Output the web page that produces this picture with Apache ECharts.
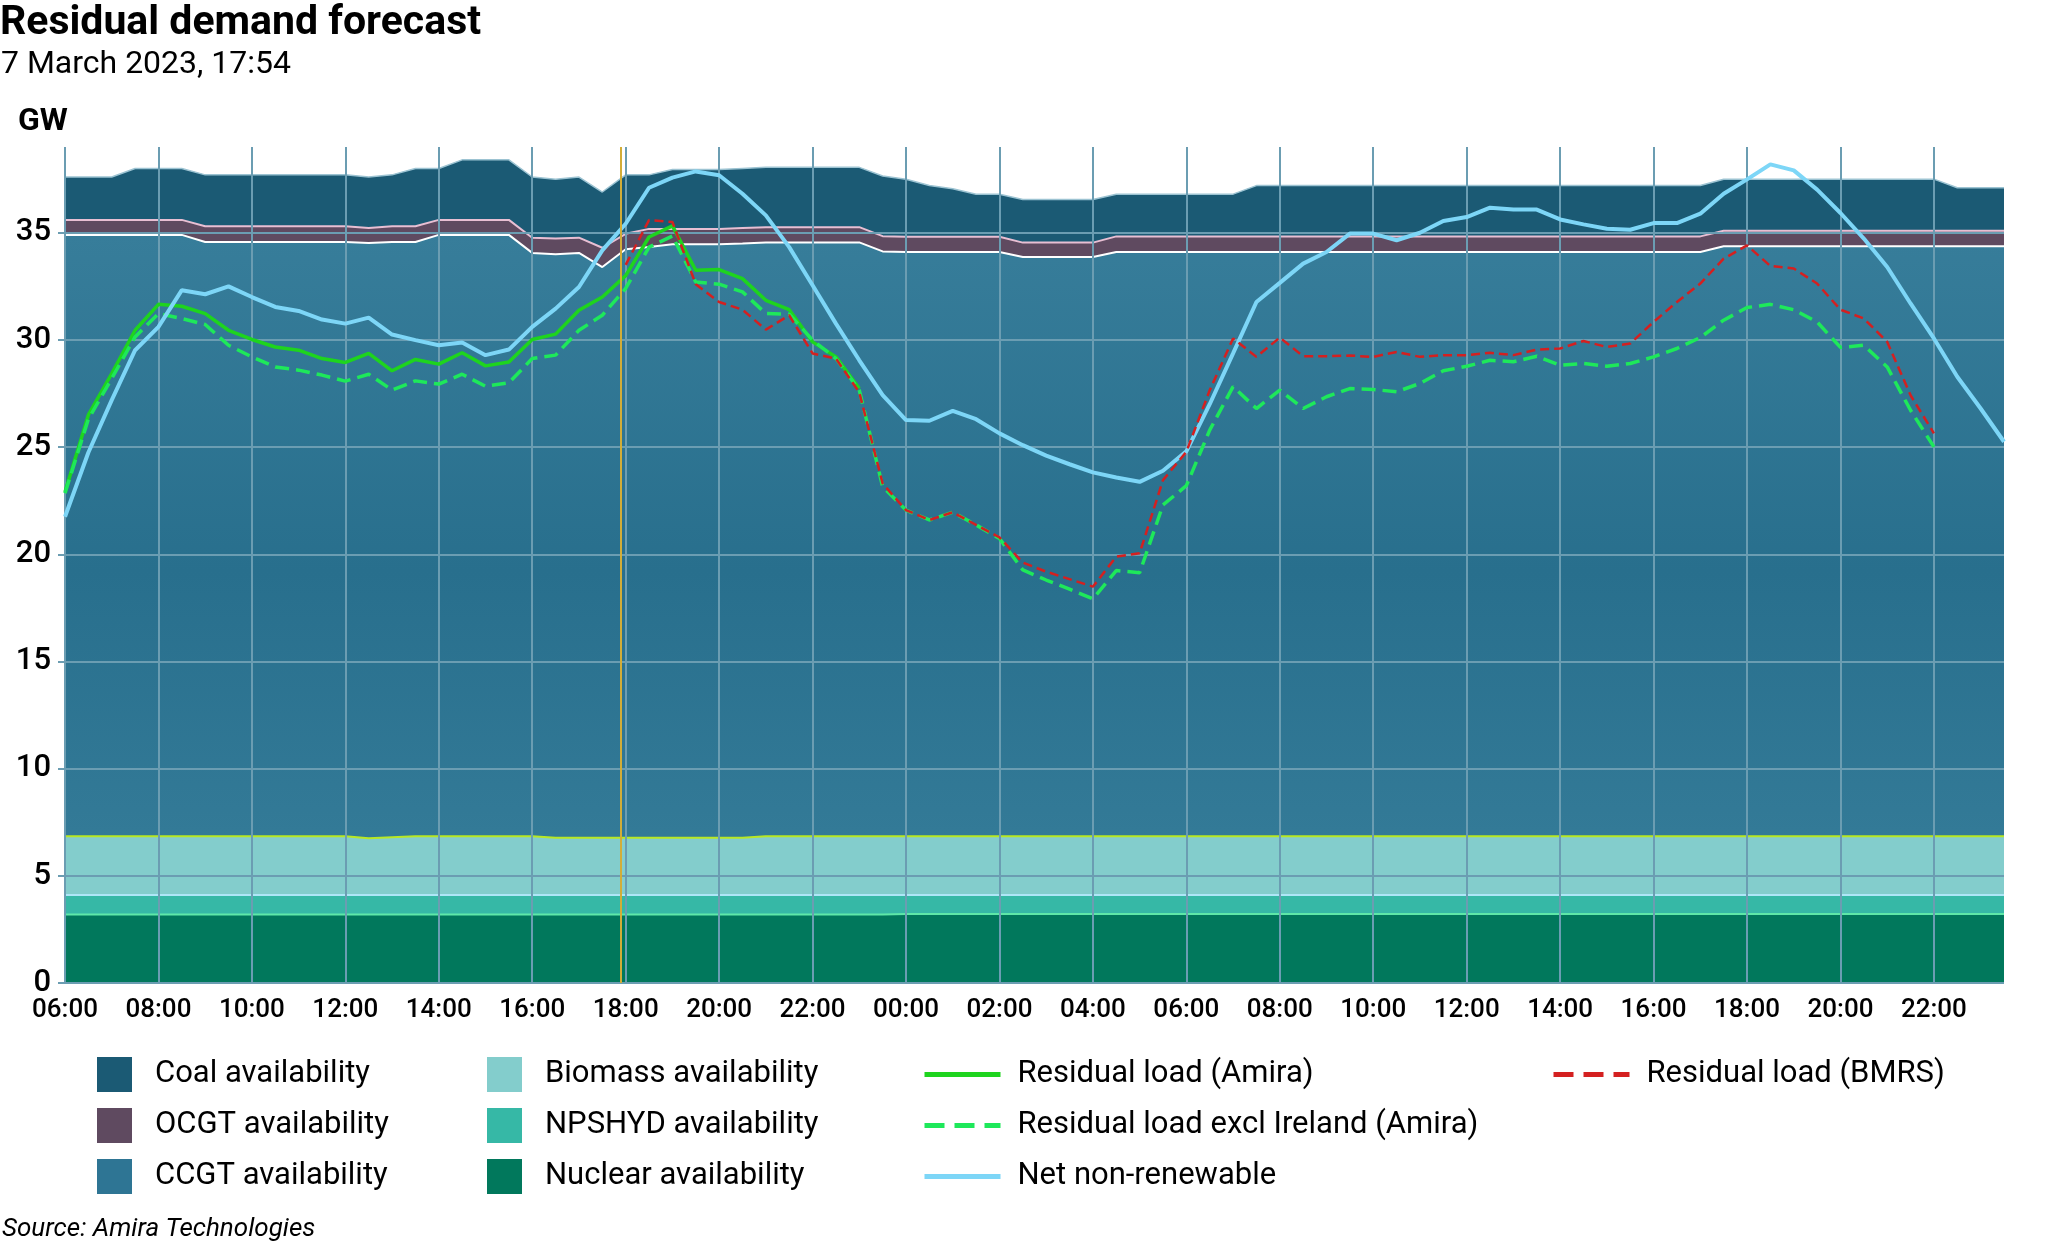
<!DOCTYPE html>
<html>
<head>
<meta charset="utf-8">
<title>Residual demand forecast</title>
<script src="https://cdn.jsdelivr.net/npm/echarts@6/dist/echarts.min.js"></script>
<style>
    html, body { margin: 0; padding: 0; background: #fff; }
    #chart { width: 2059px; height: 1257px; }
</style>
</head>
<body>
<div id="chart"></div>
<script>
// half-hourly points, 06:00 day 1 .. 23:30 day 2 (x = hours after 06:00)
var step = 0.5;
var nowHour = 11.9; // 17:54 marker

// stack levels (top edge of each band, GW)
var coalTop = [37.6, 37.6, 37.6, 38.0, 38.0, 38.0, 37.7, 37.7, 37.7, 37.7, 37.7, 37.7, 37.7, 37.6, 37.7, 38.0, 38.0, 38.4, 38.4, 38.4,
    37.6, 37.5, 37.6, 36.9, 37.7, 37.7, 37.95, 37.95, 37.95, 38.0, 38.05, 38.05, 38.05, 38.05, 38.05, 37.65, 37.5, 37.2, 37.05, 36.8,
    36.8, 36.55, 36.55, 36.55, 36.55, 36.8, 36.8, 36.8, 36.8, 36.8, 36.8, 37.2, 37.2, 37.2, 37.2, 37.2, 37.2, 37.2, 37.2, 37.2,
    37.2, 37.2, 37.2, 37.2, 37.2, 37.2, 37.2, 37.2, 37.2, 37.2, 37.2, 37.5, 37.5, 37.5, 37.5, 37.5, 37.5, 37.5, 37.5, 37.5,
    37.5, 37.1, 37.1, 37.1];
var ocgtTop = [35.6, 35.6, 35.6, 35.6, 35.6, 35.6, 35.3, 35.3, 35.3, 35.3, 35.3, 35.3, 35.3, 35.22, 35.3, 35.3, 35.6, 35.6, 35.6, 35.6,
    34.77, 34.73, 34.77, 34.3, 34.95, 35.18, 35.18, 35.18, 35.18, 35.22, 35.26, 35.26, 35.26, 35.26, 35.26, 34.84, 34.81, 34.81, 34.81, 34.81,
    34.81, 34.54, 34.54, 34.54, 34.54, 34.83, 34.83, 34.83, 34.83, 34.83, 34.83, 34.83, 34.83, 34.83, 34.83, 34.83, 34.83, 34.83, 34.83, 34.83,
    34.83, 34.83, 34.83, 34.83, 34.83, 34.83, 34.83, 34.83, 34.83, 34.83, 34.83, 35.09, 35.09, 35.09, 35.09, 35.09, 35.09, 35.09, 35.09, 35.09,
    35.09, 35.09, 35.09, 35.09];
var ccgtTop = [34.9, 34.9, 34.9, 34.9, 34.9, 34.9, 34.57, 34.57, 34.57, 34.57, 34.57, 34.57, 34.57, 34.52, 34.57, 34.57, 34.9, 34.9, 34.9, 34.9,
    34.06, 34.0, 34.06, 33.4, 34.23, 34.34, 34.46, 34.46, 34.46, 34.5, 34.55, 34.55, 34.55, 34.55, 34.55, 34.13, 34.1, 34.1, 34.1, 34.1,
    34.1, 33.87, 33.87, 33.87, 33.87, 34.1, 34.1, 34.1, 34.1, 34.1, 34.1, 34.1, 34.1, 34.1, 34.1, 34.1, 34.1, 34.1, 34.1, 34.1,
    34.1, 34.1, 34.1, 34.1, 34.1, 34.1, 34.1, 34.1, 34.1, 34.1, 34.1, 34.37, 34.37, 34.37, 34.37, 34.37, 34.37, 34.37, 34.37, 34.37,
    34.37, 34.37, 34.37, 34.37];
var biomassTop = [6.85, 6.85, 6.85, 6.85, 6.85, 6.85, 6.85, 6.85, 6.85, 6.85, 6.85, 6.85, 6.85, 6.75, 6.8, 6.85, 6.85, 6.85, 6.85, 6.85,
    6.85, 6.78, 6.78, 6.78, 6.78, 6.78, 6.78, 6.78, 6.78, 6.78, 6.85, 6.85, 6.85, 6.85, 6.85, 6.85, 6.85, 6.85, 6.85, 6.85,
    6.85, 6.85, 6.85, 6.85, 6.85, 6.85, 6.85, 6.85, 6.85, 6.85, 6.85, 6.85, 6.85, 6.85, 6.85, 6.85, 6.85, 6.85, 6.85, 6.85,
    6.85, 6.85, 6.85, 6.85, 6.85, 6.85, 6.85, 6.85, 6.85, 6.85, 6.85, 6.85, 6.85, 6.85, 6.85, 6.85, 6.85, 6.85, 6.85, 6.85,
    6.85, 6.85, 6.85, 6.85];
var npshydTop = [4.1, 4.1, 4.1, 4.1, 4.1, 4.1, 4.1, 4.1, 4.1, 4.1, 4.1, 4.1, 4.1, 4.1, 4.1, 4.1, 4.1, 4.1, 4.1, 4.1,
    4.1, 4.1, 4.1, 4.1, 4.1, 4.1, 4.1, 4.1, 4.1, 4.1, 4.1, 4.1, 4.1, 4.1, 4.1, 4.1, 4.1, 4.1, 4.1, 4.1,
    4.1, 4.1, 4.1, 4.1, 4.1, 4.1, 4.1, 4.1, 4.1, 4.1, 4.1, 4.1, 4.1, 4.1, 4.1, 4.1, 4.1, 4.1, 4.1, 4.1,
    4.1, 4.1, 4.1, 4.1, 4.1, 4.1, 4.1, 4.1, 4.1, 4.1, 4.1, 4.1, 4.1, 4.1, 4.1, 4.1, 4.1, 4.1, 4.1, 4.1,
    4.1, 4.1, 4.1, 4.1];
var nuclearTop = [3.2, 3.2, 3.2, 3.2, 3.2, 3.2, 3.2, 3.2, 3.2, 3.2, 3.2, 3.2, 3.2, 3.2, 3.2, 3.2, 3.2, 3.2, 3.2, 3.2,
    3.2, 3.2, 3.2, 3.2, 3.2, 3.2, 3.2, 3.2, 3.2, 3.2, 3.2, 3.2, 3.2, 3.2, 3.2, 3.2, 3.22, 3.22, 3.22, 3.22,
    3.22, 3.22, 3.22, 3.22, 3.22, 3.22, 3.22, 3.22, 3.22, 3.22, 3.22, 3.22, 3.22, 3.22, 3.22, 3.22, 3.22, 3.22, 3.22, 3.22,
    3.22, 3.22, 3.22, 3.22, 3.22, 3.22, 3.22, 3.22, 3.22, 3.22, 3.22, 3.22, 3.22, 3.22, 3.22, 3.22, 3.22, 3.22, 3.22, 3.22,
    3.22, 3.22, 3.22, 3.22];

// lines (GW)
var netNonRenewable = [21.75, 24.75, 27.19, 29.52, 30.61, 32.32, 32.13, 32.5, 32.0, 31.54, 31.35, 30.95, 30.76, 31.04, 30.25, 29.99, 29.75, 29.88, 29.29, 29.55,
    30.61, 31.46, 32.47, 34.18, 35.42, 37.1, 37.57, 37.86, 37.68, 36.82, 35.81, 34.33, 32.55, 30.76, 29.05, 27.42, 26.26, 26.23, 26.69, 26.3,
    25.64, 25.09, 24.6, 24.2, 23.82, 23.58, 23.38, 23.9, 24.8, 27.0, 29.37, 31.77, 32.66, 33.56, 34.1, 34.96, 34.96, 34.65, 35.0, 35.55,
    35.73, 36.17, 36.08, 36.08, 35.62, 35.39, 35.19, 35.14, 35.45, 35.45, 35.89, 36.82, 37.49, 38.19, 37.91, 37.01, 35.92, 34.73, 33.4, 31.7,
    30.07, 28.28, 26.8, 25.25];
var residualAmira = [22.9, 26.5, 28.43, 30.45, 31.66, 31.57, 31.23, 30.45, 30.02, 29.67, 29.52, 29.13, 28.95, 29.37, 28.56, 29.09, 28.87, 29.4, 28.79, 28.97,
    30.02, 30.27, 31.38, 32.0, 33.0, 34.8, 35.32, 33.25, 33.28, 32.86, 31.85, 31.41, 29.91, 29.21, 27.73, null, null, null, null, null,
    null, null, null, null, null, null, null, null, null, null, null, null, null, null, null, null, null, null, null, null,
    null, null, null, null, null, null, null, null, null, null, null, null, null, null, null, null, null, null, null, null,
    null, null, null, null];
var residualExclIreland = [22.85, 26.3, 28.2, 30.14, 31.23, 31.0, 30.72, 29.75, 29.21, 28.74, 28.59, 28.36, 28.08, 28.4, 27.66, 28.09, 27.94, 28.4, 27.84, 28.0,
    29.13, 29.29, 30.45, 31.15, 32.4, 34.33, 34.85, 32.7, 32.6, 32.24, 31.23, 31.2, 29.99, 29.13, 27.66, 23.15, 22.06, 21.6, 21.96, 21.37,
    20.74, 19.27, 18.8, 18.37, 17.92, 19.24, 19.14, 22.3, 23.2, 25.79, 27.82, 26.8, 27.66, 26.8, 27.35, 27.73, 27.69, 27.58, 27.97, 28.56,
    28.77, 29.05, 28.98, 29.24, 28.82, 28.9, 28.77, 28.9, 29.21, 29.6, 30.11, 30.92, 31.51, 31.66, 31.41, 30.84, 29.65, 29.75, 28.74, 26.72,
    25.01, null, null, null];
var residualBmrs = [null, null, null, null, null, null, null, null, null, null, null, null, null, null, null, null, null, null, null, null,
    null, null, null, null, 33.5, 35.59, 35.5, 32.6, 31.77, 31.41, 30.48, 31.15, 29.37, 29.13, 27.55, 23.3, 22.06, 21.6, 21.96, 21.37,
    20.79, 19.61, 19.19, 18.84, 18.49, 19.89, 20.05, 23.46, 24.78, 27.65, 30.07, 29.21, 30.11, 29.24, 29.24, 29.27, 29.21, 29.44, 29.21, 29.29,
    29.29, 29.4, 29.29, 29.55, 29.6, 29.95, 29.67, 29.83, 30.84, 31.77, 32.63, 33.79, 34.41, 33.45, 33.33, 32.63, 31.41, 31.0, 29.91, 27.42,
    25.64, null, null, null];

var FONT = "Roboto, 'Liberation Sans', sans-serif";
var GRID_COLOR = '#6b9db2';

function toPoints(arr) {
    return arr.map(function(v, i) { return [i * step, v]; });
}

function areaSeries(name, levels, fill, edge, edgeWidth) {
    return {
        name: name,
        type: 'line',
        data: toPoints(levels),
        symbol: 'none',
        z: 1,
        silent: true,
        itemStyle: { color: fill },
        lineStyle: { color: edge, width: edgeWidth },
        areaStyle: { color: fill, opacity: 1, origin: 'start' }
    };
}

function lineSeries(name, values, color, width, dash) {
    return {
        name: name,
        type: 'line',
        data: toPoints(values),
        symbol: 'none',
        z: 3,
        itemStyle: { color: color },
        lineStyle: { color: color, width: width, type: dash || 'solid' }
    };
}

var ccgtFill = new echarts.graphic.LinearGradient(0, 0, 0, 1, [
    { offset: 0, color: '#377d9a' },
    { offset: 0.45, color: '#286f8d' },
    { offset: 0.8, color: '#337a97' },
    { offset: 1, color: '#337a97' }
]);

var series = [
    areaSeries('Coal availability', coalTop, '#1b5a74', '#9cc3d2', 1.5),
    areaSeries('OCGT availability', ocgtTop, '#5f4a60', '#e8bfd3', 2),
    areaSeries('CCGT availability', ccgtTop, ccgtFill, '#ffffff', 2),
    areaSeries('Biomass availability', biomassTop, '#83cdcc', '#b8e825', 2),
    areaSeries('NPSHYD availability', npshydTop, '#36b8a6', '#aee6f7', 2),
    areaSeries('Nuclear availability', nuclearTop, '#01785c', '#5ee8a8', 2),
    lineSeries('Residual load (Amira)', residualAmira, '#1ed41e', 3.5),
    lineSeries('Residual load excl Ireland (Amira)', residualExclIreland, '#1ee85a', 3.5, [14, 7]),
    lineSeries('Net non-renewable', netNonRenewable, '#7dd6f7', 4),
    lineSeries('Residual load (BMRS)', residualBmrs, '#d42020', 2.5, [9, 5])
];

// 17:54 "now" marker
series[9].markLine = {
    silent: true,
    symbol: 'none',
    label: { show: false },
    lineStyle: { color: '#d2ad38', width: 2, type: 'solid' },
    data: [{ xAxis: nowHour }]
};

var legendText = { fontFamily: FONT, fontSize: 31, color: '#000', lineHeight: 35 };

function squareLegend(left, items) {
    return {
        orient: 'vertical', left: left, top: 1057, padding: 0,
        itemWidth: 35, itemHeight: 35, itemGap: 16,
        selectedMode: false,
        textStyle: Object.assign({ padding: [0, 0, 0, 18] }, legendText),
        data: items.map(function(it) {
            return { name: it[0], icon: 'rect', itemStyle: { color: it[1] } };
        })
    };
}

function lineLegend(left, items) {
    return {
        orient: 'vertical', left: left, top: 1057, padding: 0,
        itemWidth: 76, itemHeight: 35, itemGap: 16,
        selectedMode: false,
        textStyle: Object.assign({ padding: [0, 0, 0, 12] }, legendText),
        data: items.map(function(it) {
            // hide the round marker, keep only the line
            return { name: it[0], itemStyle: { color: 'rgba(0,0,0,0)', opacity: 0 }, lineStyle: { width: 5, type: it[1] } };
        })
    };
}

var option = {
    animation: false,
    backgroundColor: '#ffffff',
    title: [
        { text: 'Residual demand forecast', left: 0, top: 3, padding: 0,
          textStyle: { fontFamily: FONT, fontSize: 41, fontWeight: 'bold', color: '#000' } },
        { text: '7 March 2023, 17:54', left: 1, top: 49, padding: 0,
          textStyle: { fontFamily: FONT, fontSize: 32, fontWeight: 'normal', color: '#000' } },
        { text: 'GW', left: 18, top: 106, padding: 0,
          textStyle: { fontFamily: FONT, fontSize: 32, fontWeight: 'bold', color: '#000' } },
        { text: 'Source: Amira Technologies', left: 2, top: 1216, padding: 0,
          textStyle: { fontFamily: FONT, fontSize: 26, fontStyle: 'italic', fontWeight: 'normal', color: '#000' } }
    ],
    legend: [
        squareLegend(97, [['Coal availability', '#1b5a74'], ['OCGT availability', '#5f4a60'], ['CCGT availability', '#2e7594']]),
        squareLegend(487, [['Biomass availability', '#83cdcc'], ['NPSHYD availability', '#36b8a6'], ['Nuclear availability', '#01785c']]),
        lineLegend(922, [['Residual load (Amira)', 'solid'], ['Residual load excl Ireland (Amira)', [20, 10]], ['Net non-renewable', 'solid']]),
        lineLegend(1551, [['Residual load (BMRS)', [20, 10]]])
    ],
    grid: { left: 65, right: 55, top: 147, bottom: 274, containLabel: false },
    xAxis: {
        type: 'value', min: 0, max: 41.5, interval: 2, z: 2,
        axisLine: { show: false },
        axisTick: { show: false },
        axisLabel: {
            fontFamily: FONT, fontSize: 26, fontWeight: 500, color: '#000', margin: 14, showMaxLabel: false,
            formatter: function(v) {
                var h = (6 + v) % 24;
                return (h < 10 ? '0' : '') + h + ':00';
            }
        },
        splitLine: { show: true, showMaxLine: false, lineStyle: { color: GRID_COLOR, width: 2 } }
    },
    yAxis: {
        type: 'value', min: 0, max: 39, interval: 5, z: 2,
        axisLine: { show: false },
        axisTick: { show: true, length: 7, lineStyle: { color: GRID_COLOR, width: 2 } },
        axisLabel: { fontFamily: FONT, fontSize: 31, fontWeight: 500, color: '#000', margin: 14, showMaxLabel: false },
        splitLine: { show: true, showMaxLine: false, lineStyle: { color: GRID_COLOR, width: 2 } }
    },
    series: series
};

var chart = echarts.init(document.getElementById('chart'), null, { renderer: 'canvas' });
chart.setOption(option);
</script>
</body>
</html>
